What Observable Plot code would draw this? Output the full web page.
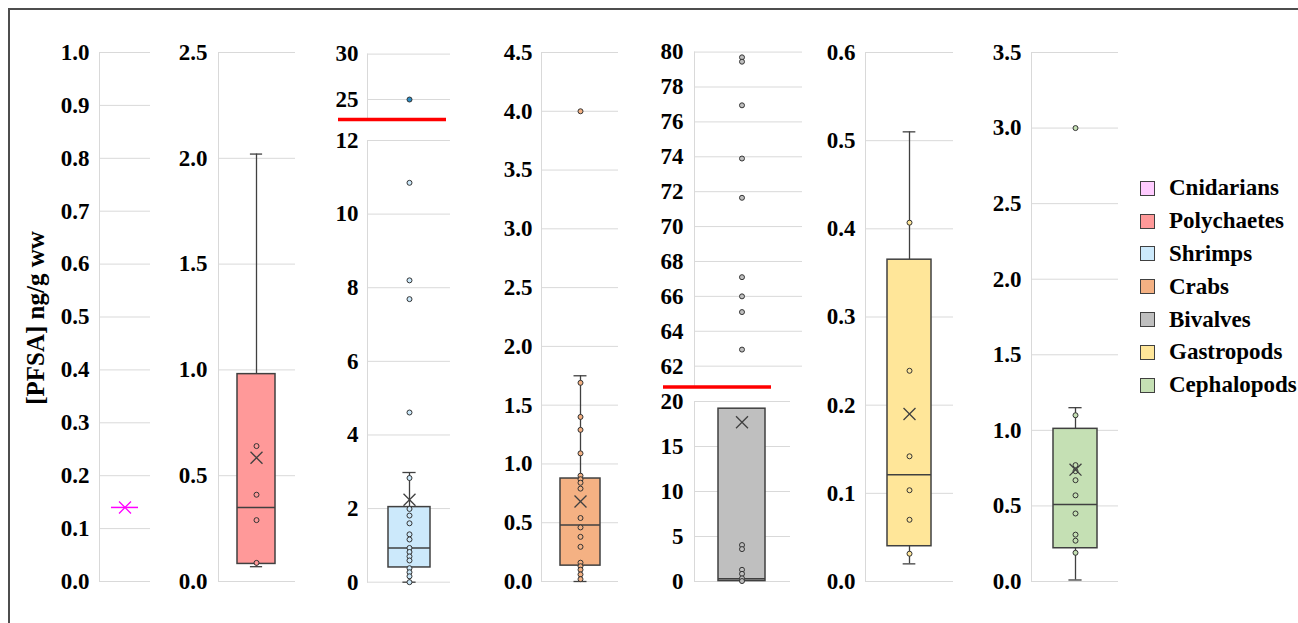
<!DOCTYPE html>
<html><head><meta charset="utf-8">
<script src="https://cdn.jsdelivr.net/npm/d3@7"></script>
<script src="https://cdn.jsdelivr.net/npm/@observablehq/plot@0.6"></script>
<style>
html,body{margin:0;padding:0;background:#fff;width:1298px;height:623px;overflow:hidden;}
#root{position:relative;width:1298px;height:623px;font-family:'Liberation Serif','Times New Roman',serif;color:#000;}
.panel{position:absolute;top:0;}
#frame{position:absolute;left:8px;top:8px;width:1400px;height:700px;border-left:2px solid #4d4d4d;border-top:2px solid #4d4d4d;}
#ytitle{position:absolute;left:36px;top:318px;transform:translate(-50%,-50%) rotate(-90deg);font-weight:bold;font-size:25px;white-space:nowrap;}
#legend{position:absolute;left:1140px;top:172px;}
.item{display:flex;align-items:center;height:32.8px;font-weight:bold;font-size:23px;white-space:nowrap;}
.sw{width:13px;height:13px;border:1.3px solid #404040;margin-right:14px;flex:none;}
</style></head><body><div id="root"><div id="frame"></div><div id="ytitle">[PFSA] ng/g ww</div><div id="legend"></div></div>
<script>
// ---------- data ----------
const species = ["Cnidarians","Polychaetes","Shrimps","Crabs","Bivalves","Gastropods","Cephalopods"];
const fillColors = ["#ffccff","#ff9999","#cce9fb","#f4b183","#bfbfbf","#ffe699","#c5e0b4"];
const q1Values      = [0.14, 0.083, 0.40, 0.135, 0.05, 0.04, 0.22];
const medianValues  = [0.14, 0.35,  0.93, 0.48,  0.30, 0.121, 0.51];
const q3Values      = [0.14, 0.98,  2.04, 0.876, 19.2, 0.365, 1.01];
const whiskerLow    = [0.14, 0.07,  0.0,  0.0,   0.05, 0.02, 0.01];
const whiskerHigh   = [0.14, 2.02,  2.98, 1.75,  19.2, 0.51, 1.15];
const meanValues    = [0.14, 0.585, 2.24, 0.68,  17.7, 0.19, 0.74];

const pointsCnidarians  = [];
const pointsPolychaetes = [0.64, 0.41, 0.29, 0.088];
const pointsShrimps     = [25, 10.85, 8.2, 7.69, 4.61, 2.83, 1.99, 1.81, 1.60, 1.30, 1.16, 0.93, 0.82, 0.70, 0.59, 0.38, 0.27, 0.16, 0.0];
const pointsCrabs       = [4.0, 1.69, 1.40, 1.29, 1.09, 0.90, 0.87, 0.84, 0.79, 0.54, 0.46, 0.38, 0.295, 0.16, 0.13, 0.10, 0.06, 0.02];
const pointsBivalves    = [79.7, 79.45, 76.95, 73.9, 71.65, 67.1, 66.0, 65.1, 62.95, 4.05, 3.6, 1.3, 0.85, 0.35, 0.05];
const pointsGastropods  = [0.407, 0.239, 0.142, 0.1035, 0.07, 0.0315];
const pointsCephalopods = [3.0, 1.10, 0.77, 0.73, 0.67, 0.57, 0.45, 0.31, 0.27, 0.19];
const pointsBySpecies = [pointsCnidarians, pointsPolychaetes, pointsShrimps, pointsCrabs, pointsBivalves, pointsGastropods, pointsCephalopods];

const ticksCnidarians  = [0,0.1,0.2,0.3,0.4,0.5,0.6,0.7,0.8,0.9,1.0];
const ticksPolychaetes = [0,0.5,1.0,1.5,2.0,2.5];
const ticksShrimpsUpper = [25,30];
const ticksShrimpsLower = [0,2,4,6,8,10,12];
const ticksCrabs       = [0,0.5,1.0,1.5,2.0,2.5,3.0,3.5,4.0,4.5];
const ticksBivalvesUpper = [62,64,66,68,70,72,74,76,78,80];
const ticksBivalvesLower = [0,5,10,15,20];
const ticksGastropods  = [0,0.1,0.2,0.3,0.4,0.5,0.6];
const ticksCephalopods = [0,0.5,1.0,1.5,2.0,2.5,3.0,3.5];

// ---------- layout ----------
const f1 = d3.format(".1f"), f0 = d3.format("d");
const layout = [
  {labelRight: 89,  gridLeft: 99,  gridRight: 150, pad: 0.307, fmt: f1, edge: "#ff00ff",
   segs: [{domain: [0,1], top: 52, bottom: 581, ticks: ticksCnidarians, box: true}]},
  {labelRight: 207, gridLeft: 218, gridRight: 295, pad: 0.33, fmt: f1, edge: "#404040",
   segs: [{domain: [0,2.5], top: 52, bottom: 581, ticks: ticksPolychaetes, box: true}]},
  {labelRight: 358, gridLeft: 367, gridRight: 450, pad: 0.33, fmt: f0, edge: "#404040",
   segs: [{domain: [22.8,30], top: 53.6, bottom: 119, ticks: ticksShrimpsUpper, redLine: [338,446], dotFill: "#2b8cc4"},
          {domain: [0,12], top: 140, bottom: 581.7, ticks: ticksShrimpsLower, box: true}]},
  {labelRight: 532, gridLeft: 541, gridRight: 618, pad: 0.316, fmt: f1, edge: "#404040",
   segs: [{domain: [0,4.5], top: 52, bottom: 581, ticks: ticksCrabs, box: true}]},
  {labelRight: 683, gridLeft: 694, gridRight: 790, pad: 0.338, fmt: f0, edge: "#404040",
   segs: [{domain: [60.8,80], top: 51.6, bottom: 386.6, ticks: ticksBivalvesUpper, redLine: [663,771], gridExtend: 12},
          {domain: [0,20], top: 401, bottom: 581, ticks: ticksBivalvesLower, box: true}]},
  {labelRight: 855, gridLeft: 865, gridRight: 953, pad: 0.33, fmt: f1, edge: "#404040",
   segs: [{domain: [0,0.6], top: 52, bottom: 581, ticks: ticksGastropods, box: true}]},
  {labelRight: 1021, gridLeft: 1031, gridRight: 1118, pad: 0.33, fmt: f1, edge: "#404040",
   segs: [{domain: [0,3.5], top: 52, bottom: 581, ticks: ticksCephalopods, box: true}]}
];

const root = document.getElementById("root");
const ML = 60, MR = 20, MB = 12;

function segmentPlot(i, panel, seg) {
  const cat = species[i];
  const gw = panel.gridRight - panel.gridLeft;
  const bw = gw * (1 - panel.pad) / (1 + panel.pad);
  const capInset = Math.max(0, (bw - 13) / 2);
  const edge = panel.edge;
  const inDom = v => v >= seg.domain[0] - 1e-9 && v <= seg.domain[1] + 1e-9;
  const pts = pointsBySpecies[i].filter(inDom).map(v => ({cat, v}));
  const marks = [
    Plot.gridY(seg.ticks, {stroke: "#d9d9d9", strokeOpacity: 1, strokeWidth: 1, insetRight: -(seg.gridExtend || 0)}),
    Plot.frame({anchor: "left", stroke: "#d9d9d9", strokeOpacity: 1}),
    Plot.axisY(seg.ticks, {tickSize: 0, tickPadding: panel.gridLeft - panel.labelRight, tickFormat: panel.fmt, label: null,
      fontSize: 23, fontWeight: "bold", fill: "#000"})
  ];
  let s = null;
  if (seg.box) {
    s = {cat, q1: q1Values[i], q3: q3Values[i], med: medianValues[i], lo: whiskerLow[i], hi: whiskerHigh[i], mean: meanValues[i]};
    if (s.hi > s.q3) marks.push(
      Plot.ruleX([s], {x: "cat", y1: "q3", y2: "hi", stroke: edge, strokeWidth: 1.3}),
      Plot.tickY([s], {x: "cat", y: "hi", stroke: edge, strokeWidth: 1.3, insetLeft: capInset, insetRight: capInset}));
    if (s.lo < s.q1) marks.push(
      Plot.ruleX([s], {x: "cat", y1: "lo", y2: "q1", stroke: edge, strokeWidth: 1.3}),
      Plot.tickY([s], {x: "cat", y: "lo", stroke: edge, strokeWidth: 1.3, insetLeft: capInset, insetRight: capInset}));
    if (s.q3 > s.q1) marks.push(Plot.barY([s], {x: "cat", y1: "q1", y2: "q3", fill: fillColors[i], stroke: edge, strokeWidth: 1.5}));
    marks.push(Plot.tickY([s], {x: "cat", y: "med", stroke: edge, strokeWidth: 1.5}));
  }
  marks.push(Plot.dot(pts, {x: "cat", y: "v", r: 2.5, fill: seg.dotFill || fillColors[i], stroke: "#333", strokeWidth: 1}));
  if (s) marks.push(Plot.dot([s], {x: "cat", y: "mean", symbol: "times", r: 5.5, stroke: edge, strokeWidth: 1.3}));
  if (seg.redLine) marks.push(Plot.ruleY([seg.domain[0]], {stroke: "#ff0000", strokeWidth: 3.5,
      insetLeft: seg.redLine[0] - panel.gridLeft, insetRight: panel.gridRight - seg.redLine[1]}));

  const chart = Plot.plot({
    width: ML + gw + MR,
    height: seg.bottom + MB,
    marginLeft: ML, marginRight: MR, marginTop: seg.top, marginBottom: MB,
    x: {type: "band", domain: [cat], padding: panel.pad, axis: null},
    y: {domain: seg.domain, axis: null, label: null},
    style: {fontFamily: "'Liberation Serif','Times New Roman',serif", background: "transparent", overflow: "visible"},
    marks
  });
  const div = document.createElement("div");
  div.className = "panel";
  div.style.left = (panel.gridLeft - ML) + "px";
  div.style.width = (ML + gw + MR) + "px";
  div.appendChild(chart);
  root.appendChild(div);
}

layout.forEach((panel, i) => panel.segs.forEach(seg => segmentPlot(i, panel, seg)));

// legend
const legend = document.getElementById("legend");
species.forEach((name, i) => {
  const item = document.createElement("div");
  item.className = "item";
  const sw = document.createElement("div");
  sw.className = "sw";
  sw.style.background = fillColors[i];
  item.appendChild(sw);
  item.appendChild(document.createTextNode(name));
  legend.appendChild(item);
});
</script></body></html>
